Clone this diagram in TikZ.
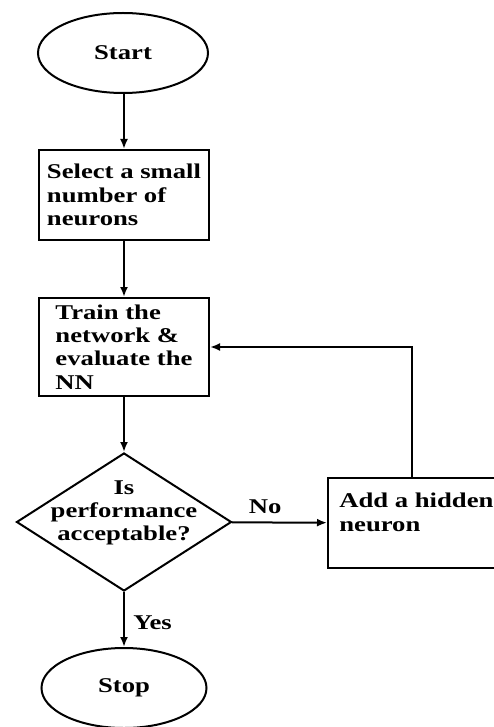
\documentclass[tikz,border=0pt]{standalone}
\usepackage{fontspec}
\setmainfont{Liberation Serif}[FakeStretch=1.27]
\usetikzlibrary{shapes.geometric,arrows.meta}

\begin{document}
\begin{tikzpicture}[x=1pt,y=-1pt,line width=2pt,
		font=\fontsize{21}{23.3}\selectfont\bfseries,
		terminal/.style={draw,ellipse,minimum width=170pt,minimum height=80pt},
		process/.style={draw,rectangle,align=left,minimum width=170pt,inner sep=0pt},
		decision/.style={draw,diamond,aspect=1.56,minimum width=215pt,minimum height=138pt,inner sep=0pt},
		flow/.style={-{Latex[length=10pt,width=8pt]}}]
				      \useasboundingbox (0,0) rectangle (494,727);
				      \node[terminal] (start) at (123,53) {Start};
				      \node[process,minimum height=90pt] (select) at (124,195) {Select a small\\number of\\neurons};
				      \node[process,minimum height=98pt] (train) at (124,347) {Train the\\network \&\\evaluate the\\NN};
				      \node[decision,label={[align=center,yshift=9pt]center:Is\\performance\\acceptable?}] (check) at (124,522) {};
				      \node[process,minimum width=192pt,minimum height=90pt,
				            label={[align=left,anchor=north west,xshift=8pt,yshift=-12pt]north west:Add a hidden\\neuron}] (add) at (424,523) {};
				      \node[terminal,minimum width=165pt] (stop) at (124,688) {Stop};
				      \draw[flow] (start.south -| select.north) -- (select);
				      \draw[flow] (select) -- (train);
				      \draw[flow] (train) -- (check);
				      \draw[flow] (check) -- node[above=4pt,pos=0.35] {No} (add);
				      \draw[flow] (check) -- node[right=5pt,midway,yshift=-3pt] {Yes} (stop);
				      \draw[flow] (add.north west) ++(85,0) |- (train.east);
			      \end{tikzpicture}
\end{document}
